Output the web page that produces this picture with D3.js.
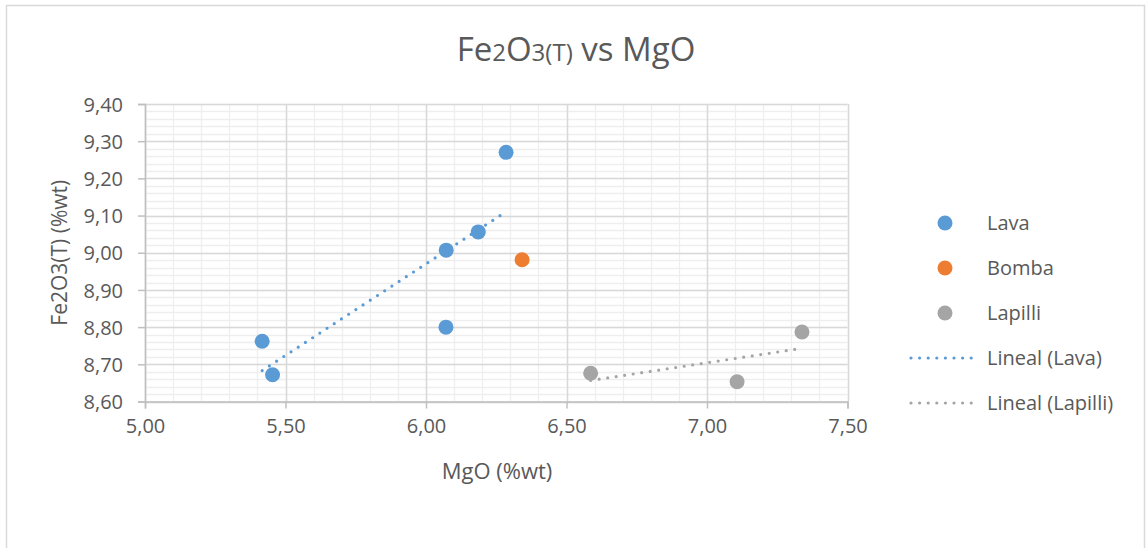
<!DOCTYPE html>
<html>
<head>
<meta charset="utf-8">
<script src="https://cdn.jsdelivr.net/npm/d3@7"></script>
<style>
  html, body { margin: 0; padding: 0; background: #fff; }
  svg text { font-family: "Open Sans", "Noto Sans", sans-serif; fill: #595959; }
</style>
</head>
<body>
<svg id="chart" width="1147" height="548"></svg>
<script>
// Sample compositions, MgO (%wt) vs Fe2O3(T) (%wt)
const lavaMgO   = [6.285, 6.186, 6.072, 6.071, 5.417, 5.454];
const lavaFe    = [9.270, 9.056, 9.007, 8.800, 8.762, 8.672];
const bombaMgO  = [6.342];
const bombaFe   = [8.981];
const lapilliMgO = [6.586, 7.107, 7.338];
const lapilliFe  = [8.676, 8.653, 8.787];

const xTicks = [5.0, 5.5, 6.0, 6.5, 7.0, 7.5];
const yTicks = [8.6, 8.7, 8.8, 8.9, 9.0, 9.1, 9.2, 9.3, 9.4];
const legendLabels = ["Lava", "Bomba", "Lapilli", "Lineal (Lava)", "Lineal (Lapilli)"];

const colors = { lava: "#5B9BD5", bomba: "#ED7D31", lapilli: "#A5A5A5" };
const fmt = v => d3.format(".2f")(v).replace(".", ",");

const svg = d3.select("#chart");
const plot = { left: 145, right: 847.5, top: 104, bottom: 401.5 };

// outer chart frame
svg.append("rect")
  .attr("x", 6.5).attr("y", 5.5).attr("width", 1138).attr("height", 560)
  .attr("fill", "#fff").attr("stroke", "#d9d9d9").attr("stroke-width", 1.5);

const x = d3.scaleLinear().domain([5.0, 7.5]).range([plot.left, plot.right]);
const y = d3.scaleLinear().domain([8.6, 9.4]).range([plot.bottom, plot.top]);

// minor gridlines
const xMinor = d3.range(0, 26).map(i => 5.0 + i * 0.1);
const yMinor = d3.range(0, 41).map(i => 8.6 + i * 0.02);
const grid = svg.append("g");
grid.selectAll(".xm").data(xMinor).join("line")
  .attr("x1", d => Math.round(x(d)) + 0.5).attr("x2", d => Math.round(x(d)) + 0.5)
  .attr("y1", plot.top).attr("y2", plot.bottom)
  .attr("stroke", "#eeeeee").attr("stroke-width", 1.3);
grid.selectAll(".ym").data(yMinor).join("line")
  .attr("y1", d => Math.round(y(d)) + 0.5).attr("y2", d => Math.round(y(d)) + 0.5)
  .attr("x1", plot.left).attr("x2", plot.right)
  .attr("stroke", "#eeeeee").attr("stroke-width", 1.3);

// major gridlines
grid.selectAll(".xM").data(xTicks).join("line")
  .attr("x1", d => Math.round(x(d)) + 0.5).attr("x2", d => Math.round(x(d)) + 0.5)
  .attr("y1", plot.top).attr("y2", plot.bottom)
  .attr("stroke", "#d9d9d9").attr("stroke-width", 1.5);
grid.selectAll(".yM").data(yTicks).join("line")
  .attr("y1", d => Math.round(y(d)) + 0.5).attr("y2", d => Math.round(y(d)) + 0.5)
  .attr("x1", plot.left).attr("x2", plot.right)
  .attr("stroke", "#d9d9d9").attr("stroke-width", 1.5);

// axes
const xAxis = svg.append("g")
  .attr("transform", `translate(0,${plot.bottom})`)
  .call(d3.axisBottom(x).tickValues(xTicks).tickFormat(fmt).tickSize(7).tickPadding(10));
const yAxis = svg.append("g")
  .attr("transform", `translate(${plot.left},0)`)
  .call(d3.axisLeft(y).tickValues(yTicks).tickFormat(fmt).tickSize(7).tickPadding(15));
[xAxis, yAxis].forEach(a => {
  a.select(".domain").attr("stroke", "#bfbfbf").attr("stroke-width", 1.5);
  a.selectAll(".tick line").attr("stroke", "#bfbfbf").attr("stroke-width", 1.5);
  a.selectAll(".tick text").attr("font-size", 20).attr("fill", "#595959")
    .style("font-family", '"Open Sans", sans-serif');
});
yAxis.selectAll(".tick text").attr("dy", "0.36em");

// linear least-squares trendline over the data range
function trend(xs, ys) {
  const mx = d3.mean(xs), my = d3.mean(ys);
  const sxy = d3.sum(xs, (v, i) => (v - mx) * (ys[i] - my));
  const sxx = d3.sum(xs, v => (v - mx) * (v - mx));
  const b = sxy / sxx, a = my - b * mx;
  const [x0, x1] = d3.extent(xs);
  return [[x0, a + b * x0], [x1, a + b * x1]];
}
const line = d3.line().x(d => x(d[0])).y(d => y(d[1]));
const dotted = { width: 3.2, dash: "0,8.6" };

[[lavaMgO, lavaFe, colors.lava], [lapilliMgO, lapilliFe, colors.lapilli]].forEach(([xs, ys, c]) => {
  svg.append("path").datum(trend(xs, ys)).attr("d", line)
    .attr("fill", "none").attr("stroke", c)
    .attr("stroke-width", dotted.width).attr("stroke-linecap", "round")
    .attr("stroke-dasharray", dotted.dash);
});

// scatter points
const series = [
  { xs: lavaMgO, ys: lavaFe, c: colors.lava },
  { xs: bombaMgO, ys: bombaFe, c: colors.bomba },
  { xs: lapilliMgO, ys: lapilliFe, c: colors.lapilli }
];
series.forEach(s => {
  svg.append("g").selectAll("circle").data(s.xs.map((v, i) => [v, s.ys[i]])).join("circle")
    .attr("cx", d => x(d[0])).attr("cy", d => y(d[1])).attr("r", 7.5)
    .attr("fill", s.c);
});

// title
const title = svg.append("text").attr("x", 576).attr("y", 61).attr("text-anchor", "middle")
  .attr("font-size", 33);
title.append("tspan").text("Fe");
title.append("tspan").attr("font-size", 24).text("2");
title.append("tspan").text("O");
title.append("tspan").attr("font-size", 24).text("3(T)");
title.append("tspan").text(" vs MgO");

// axis titles
svg.append("text").attr("x", 497).attr("y", 479)
  .attr("text-anchor", "middle").attr("font-size", 22).text("MgO (%wt)");
svg.append("text")
  .attr("transform", `translate(67,${(plot.top + plot.bottom) / 2}) rotate(-90)`)
  .attr("text-anchor", "middle").attr("font-size", 21).text("Fe2O3(T) (%wt)");

// legend
const legY = [223, 268, 313, 358, 403];
const legend = svg.append("g");
const legendMarks = [
  { type: "dot", c: colors.lava },
  { type: "dot", c: colors.bomba },
  { type: "dot", c: colors.lapilli },
  { type: "line", c: colors.lava },
  { type: "line", c: colors.lapilli }
];
legendLabels.forEach((lab, i) => {
  const m = legendMarks[i];
  if (m.type === "dot") {
    legend.append("circle").attr("cx", 945).attr("cy", legY[i]).attr("r", 7.5).attr("fill", m.c);
  } else {
    legend.append("line").attr("x1", 911).attr("x2", 973).attr("y1", legY[i]).attr("y2", legY[i])
      .attr("stroke", m.c).attr("stroke-width", dotted.width).attr("stroke-linecap", "round")
      .attr("stroke-dasharray", dotted.dash);
  }
  legend.append("text").attr("x", 987).attr("y", legY[i]).attr("dy", "0.36em")
    .attr("font-size", 20).text(lab);
});
</script>
</body>
</html>
